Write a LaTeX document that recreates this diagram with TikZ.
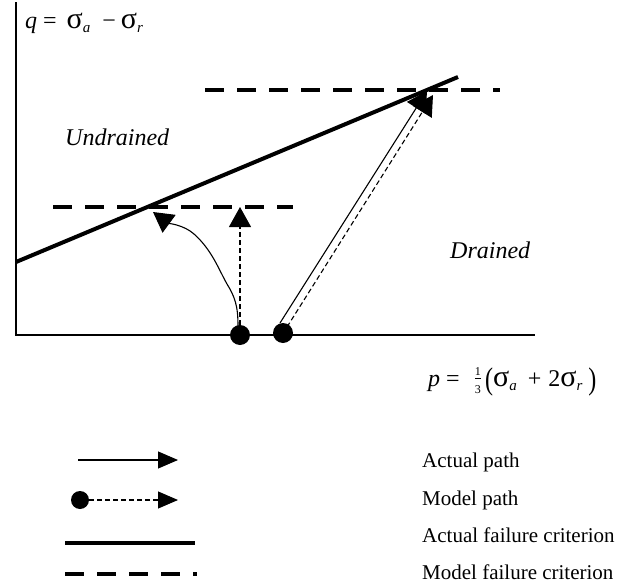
\documentclass[tikz,border=0pt]{standalone}
\usepackage{fontspec}
\usepackage{graphicx}
\setmainfont{Liberation Serif}
\usetikzlibrary{arrows.meta}
\newcommand\sbs[1]{\raisebox{-0.45ex}{\fontsize{15}{15}\selectfont\itshape #1}}
\newcommand\sig{\scalebox{1.25}{σ}}
\newcommand\tallp[1]{\raisebox{-0.14em}{\scalebox{1}[1.3]{#1}}}
\newcommand\onethird{\raisebox{0.05em}{$\frac{\mbox{\fontsize{12}{12}\selectfont 1}}{\mbox{\fontsize{12}{12}\selectfont 3}}$}}
\newcommand\hs[1]{\hspace{#1pt}}
\begin{document}
\begin{tikzpicture}[x=1pt,y=-1pt,
  axis/.style={line width=1.6pt},
  crit/.style={line width=4pt},
  modelcrit/.style={line width=4pt, dash pattern=on 19pt off 13pt},
  dot/.style={circle, fill=black, inner sep=0pt, minimum size=20pt},
  legdot/.style={circle, fill=black, inner sep=0pt, minimum size=18pt},
  actual/.style={line width=1.1pt, -{Triangle[length=20pt,width=22pt]}},
  model/.style={line width=1.1pt, dash pattern=on 5pt off 3pt, -{Triangle[length=20pt,width=22pt]}},
  legactual/.style={line width=1.1pt, -{Triangle[length=20pt,width=17pt]}},
  legmodel/.style={line width=1.1pt, dash pattern=on 5pt off 3pt, -{Triangle[length=20pt,width=17pt]}},
  lbl/.style={font=\fontsize{24}{28}\selectfont, inner sep=0pt, anchor=base west},
  leg/.style={font=\fontsize{21}{25}\selectfont, inner sep=0pt, anchor=base west}
]
\useasboundingbox (0,0) rectangle (625,584);

% axes
\coordinate (ytop) at (16,2);
\coordinate (O) at (16,335);
\coordinate (xend) at (535,335);
\draw[axis] (ytop) -- (O) -- (xend);

% actual failure criterion
\coordinate (f1) at (16,262);
\coordinate (f2) at (458,77);
\draw[crit] (f1) -- (f2);

% model failure criteria
\coordinate (u1) at (205,90);
\coordinate (u2) at (500,90);
\draw[modelcrit] (u1) -- (u2);
\coordinate (l1) at (53,207);
\coordinate (l2) at (293,207);
\draw[modelcrit] (l1) -- (l2);

% start points
\node[dot] (d1) at (240,335) {};
\node[dot] (d2) at (283,333) {};

% undrained paths
\coordinate (t1) at (240,207);
\draw[model] (d1) -- (t1);
\coordinate (c0) at (238,326);
\coordinate (c1) at (227,284);
\coordinate (c2) at (194,234);
\coordinate (t2) at (153,212);
\draw[actual] (c0) .. controls (238,306) and (235,297) .. (c1)
  .. controls (219,270) and (212,250) .. (c2)
  .. controls (184,225) and (168,223) .. (t2);

% drained paths
\coordinate (s0) at (280,323);
\coordinate (t3s) at (427,91);
\draw[actual] (s0) -- (t3s);
\coordinate (m0) at (287,327);
\coordinate (t3d) at (433,95);
\draw[model] (m0) -- (t3d);

% labels
\node[lbl] (qlab) at (25,28) {{\itshape q}\hs{6}=\hs{10}\sig\sbs{a}\hs{12}−\hs{5}\sig\sbs{r}};
\node[lbl] (plab) at (428,386) {{\itshape p}\hs{6}=\hs{14}\onethird\hs{3}\tallp{(}\sig\sbs{a}\hs{11}+\hs{7}2\sig\sbs{r}\hs{6}\tallp{)}};
\node[lbl, font=\fontsize{24}{28}\selectfont\itshape] (und) at (65,145) {Undrained};
\node[lbl, font=\fontsize{24}{28}\selectfont\itshape] (dra) at (450,258) {Drained};

% legend
\coordinate (la1) at (78,460);
\coordinate (la2) at (178,460);
\draw[legactual] (la1) -- (la2);
\node[leg] (ta) at (422,467) {Actual path};

\node[legdot] (ld) at (80,500) {};
\coordinate (lm2) at (178,500);
\draw[legmodel] (ld) -- (lm2);
\node[leg] (tm) at (422,505) {Model path};

\coordinate (lc1) at (65,543);
\coordinate (lc2) at (195,543);
\draw[crit] (lc1) -- (lc2);
\node[leg] (tc) at (422,542) {Actual failure criterion};

\coordinate (lmc1) at (65,574);
\coordinate (lmc2) at (197,574);
\draw[modelcrit] (lmc1) -- (lmc2);
\node[leg] (tmc) at (422,579) {Model failure criterion};
\end{tikzpicture}
\end{document}
